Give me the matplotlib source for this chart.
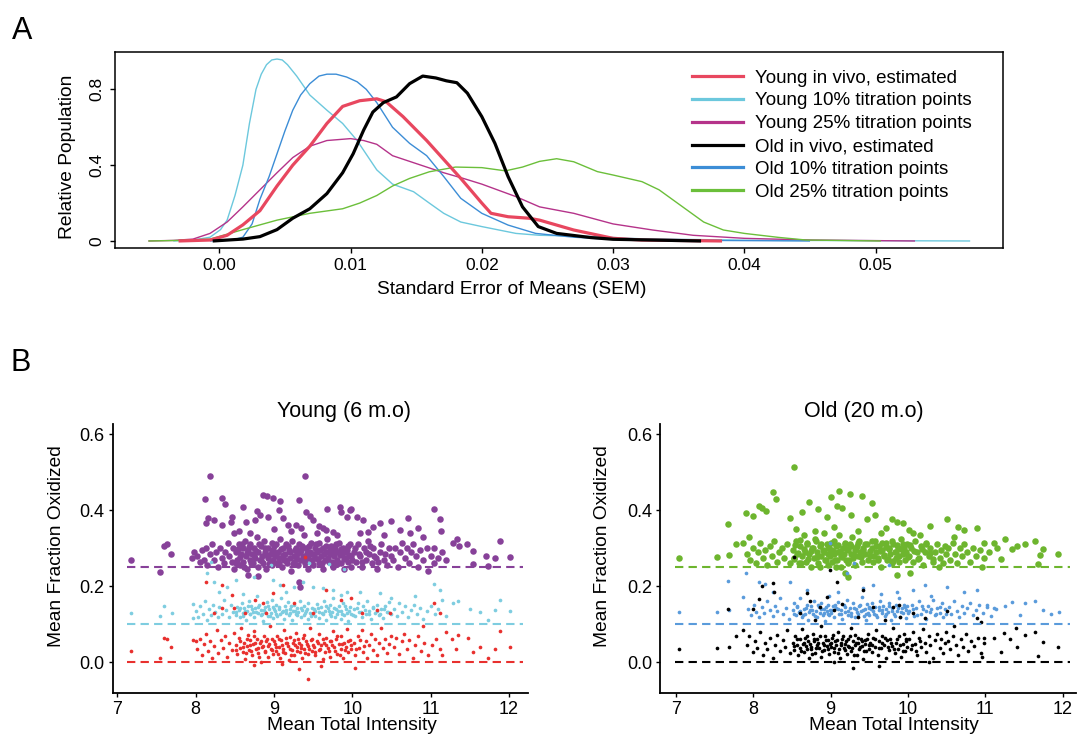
#!/usr/bin/env python3
import matplotlib

matplotlib.use("Agg")
import matplotlib.pyplot as plt
import numpy as np

plt.rcParams["font.family"] = ["Liberation Sans", "DejaVu Sans"]

W, H = 1079, 734

# ---------------- panel A: SEM densities ----------------
young_vivo_sem = [-0.0031, -0.0007, 0.0006, 0.0018, 0.0031, 0.0044, 0.0056, 0.0069, 0.0082, 0.0094,
                  0.0107, 0.0120, 0.0127, 0.0140, 0.0158, 0.0171, 0.0184, 0.0200, 0.0207, 0.0220,
                  0.0236, 0.0244, 0.0270, 0.0300, 0.0322, 0.0383]
young_vivo_den = [0.0, 0.005, 0.03, 0.085, 0.16, 0.29, 0.40, 0.50, 0.62, 0.71,
                  0.74, 0.75, 0.735, 0.656, 0.53, 0.43, 0.33, 0.20, 0.146, 0.128,
                  0.12, 0.11, 0.058, 0.014, 0.005, 0.0]

young10_sem = [-0.0035, -0.0020, -0.0007, 0.0001, 0.0006, 0.0012, 0.0018, 0.0023, 0.0028, 0.0032,
               0.0036, 0.0040, 0.0044, 0.0048, 0.0052, 0.0059, 0.0069, 0.0082, 0.0094, 0.0105,
               0.0120, 0.0132, 0.0148, 0.0160, 0.0171, 0.0184, 0.0200, 0.0226, 0.0244, 0.0280,
               0.0320, 0.0400, 0.0572]
young10_den = [0.0, 0.005, 0.02, 0.06, 0.11, 0.24, 0.40, 0.62, 0.80, 0.88,
               0.93, 0.955, 0.96, 0.955, 0.93, 0.87, 0.77, 0.69, 0.62, 0.53,
               0.375, 0.30, 0.26, 0.20, 0.146, 0.10, 0.076, 0.04, 0.03, 0.025,
               0.012, 0.004, 0.0]

young25_sem = [-0.0054, -0.0035, -0.0020, -0.0007, 0.0006, 0.0018, 0.0031, 0.0044, 0.0056, 0.0069,
               0.0082, 0.0100, 0.0110, 0.0120, 0.0132, 0.0145, 0.0158, 0.0171, 0.0186, 0.0200,
               0.0226, 0.0244, 0.0270, 0.0300, 0.0330, 0.0361, 0.0400, 0.0452, 0.0530]
young25_den = [0.0, 0.003, 0.01, 0.04, 0.10, 0.18, 0.27, 0.36, 0.44, 0.50,
               0.53, 0.54, 0.53, 0.51, 0.45, 0.42, 0.39, 0.36, 0.33, 0.30,
               0.234, 0.18, 0.146, 0.09, 0.058, 0.03, 0.014, 0.005, 0.0]

old_vivo_sem = [-0.0005, 0.0018, 0.0031, 0.0044, 0.0056, 0.0069, 0.0082, 0.0094, 0.0102, 0.0110,
                0.0117, 0.0125, 0.0135, 0.0145, 0.0155, 0.0165, 0.0173, 0.0181, 0.0189, 0.0200,
                0.0210, 0.0220, 0.0231, 0.0243, 0.0257, 0.0283, 0.0300, 0.0367]
old_vivo_den = [0.0, 0.01, 0.023, 0.06, 0.12, 0.17, 0.25, 0.36, 0.46, 0.585,
                0.68, 0.73, 0.76, 0.83, 0.87, 0.86, 0.845, 0.835, 0.78, 0.656,
                0.515, 0.34, 0.18, 0.076, 0.04, 0.018, 0.009, 0.0]

old10_sem = [-0.0007, 0.0010, 0.0018, 0.0025, 0.0031, 0.0038, 0.0044, 0.0050, 0.0056, 0.0062,
             0.0069, 0.0076, 0.0082, 0.0089, 0.0097, 0.0105, 0.0112, 0.0120, 0.0132, 0.0145,
             0.0158, 0.0171, 0.0184, 0.0200, 0.0220, 0.0241, 0.0270, 0.0300, 0.0350, 0.0450]
old10_den = [0.0, 0.005, 0.02, 0.09, 0.22, 0.34, 0.46, 0.58, 0.69, 0.77,
             0.83, 0.87, 0.88, 0.88, 0.865, 0.84, 0.80, 0.73, 0.60, 0.515,
             0.45, 0.34, 0.225, 0.146, 0.084, 0.04, 0.02, 0.008, 0.004, 0.0]

old25_sem = [-0.0054, -0.0030, -0.0007, 0.0018, 0.0044, 0.0069, 0.0094, 0.0107, 0.0120, 0.0132,
             0.0145, 0.0160, 0.0180, 0.0200, 0.0218, 0.0231, 0.0244, 0.0257, 0.0270, 0.0288,
             0.0300, 0.0322, 0.0335, 0.0353, 0.0369, 0.0384, 0.0400, 0.0426, 0.0447, 0.0504]
old25_den = [0.0, 0.003, 0.01, 0.06, 0.11, 0.146, 0.17, 0.20, 0.24, 0.29,
             0.33, 0.365, 0.39, 0.387, 0.37, 0.39, 0.42, 0.434, 0.418, 0.366,
             0.348, 0.313, 0.27, 0.18, 0.10, 0.058, 0.04, 0.019, 0.005, 0.0]

density_labels = ["Young in vivo, estimated", "Young 10% titration points", "Young 25% titration points",
                  "Old in vivo, estimated", "Old 10% titration points", "Old 25% titration points"]
sem_ticks = [0.00, 0.01, 0.02, 0.03, 0.04, 0.05]
pop_ticks = [0.0, 0.4, 0.8]
pop_tick_labels = ["0", "0.4", "0.8"]

# ---------------- panel B: mean fraction oxidized vs intensity ----------------
# Young (6 m.o), 25% titration points
young25_pts = [
    (7.18, 0.269), (7.54, 0.237), (7.59, 0.306), (7.64, 0.311), (7.69, 0.284), (7.95, 0.275), (7.98, 0.29),
    (8.18, 0.489), (8.12, 0.43), (8.34, 0.432), (8.37, 0.416), (8.61, 0.408), (8.86, 0.44), (8.91, 0.438),
    (8.99, 0.432), (9.08, 0.424), (9.32, 0.427), (9.40, 0.49), (9.41, 0.396), (9.68, 0.403), (9.84, 0.408),
    (9.97, 0.401), (9.99, 0.404), (11.04, 0.404), (11.12, 0.377), (11.13, 0.346), (11.34, 0.325),
    (11.89, 0.32), (12.01, 0.278), (11.71, 0.28), (11.82, 0.274), (11.54, 0.294), (11.46, 0.311),
    (11.29, 0.313), (11.36, 0.307), (11.54, 0.259), (11.74, 0.254), (10.97, 0.241), (11.20, 0.268),
    (8.13, 0.366), (8.16, 0.379), (8.23, 0.375), (8.33, 0.361), (8.46, 0.383), (8.45, 0.37), (8.49, 0.339),
    (8.64, 0.37), (8.76, 0.375), (8.78, 0.399), (8.82, 0.388), (8.93, 0.383), (9.07, 0.401), (9.12, 0.379),
    (9.18, 0.361), (9.28, 0.361), (9.35, 0.353), (9.46, 0.385), (9.50, 0.375), (9.57, 0.359), (9.62, 0.354),
    (9.67, 0.348), (9.76, 0.344), (9.86, 0.395), (9.93, 0.383), (10.06, 0.383), (10.14, 0.375),
    (10.20, 0.344), (10.27, 0.355), (10.35, 0.366), (10.50, 0.373), (10.61, 0.348), (10.71, 0.379),
    (10.74, 0.339), (10.84, 0.354), (8.67, 0.23), (8.80, 0.228), (9.32, 0.212), (9.33, 0.199),
    (8.55, 0.345), (8.70, 0.34), (9.00, 0.35), (9.22, 0.345), (9.55, 0.34), (9.80, 0.335), (10.10, 0.34),
    (10.40, 0.335), (10.90, 0.33), (11.05, 0.30), (11.15, 0.29),
    (8.02, 0.28), (8.05, 0.265), (8.08, 0.295), (8.10, 0.27), (8.13, 0.30), (8.15, 0.255), (8.18, 0.285),
    (8.21, 0.31), (8.23, 0.27), (8.26, 0.29), (8.28, 0.25), (8.31, 0.30), (8.33, 0.275), (8.36, 0.26),
    (8.38, 0.29), (8.41, 0.315), (8.43, 0.28), (8.46, 0.265), (8.48, 0.30), (8.49, 0.245),
    (8.51, 0.29), (8.53, 0.27), (8.55, 0.31), (8.56, 0.255), (8.58, 0.285), (8.60, 0.30), (8.61, 0.265),
    (8.63, 0.32), (8.64, 0.28), (8.66, 0.245), (8.67, 0.295), (8.69, 0.27), (8.70, 0.31), (8.72, 0.285),
    (8.73, 0.26), (8.75, 0.30), (8.76, 0.275), (8.78, 0.33), (8.79, 0.25), (8.80, 0.29), (8.82, 0.27),
    (8.83, 0.305), (8.85, 0.28), (8.86, 0.26), (8.87, 0.32), (8.89, 0.29), (8.90, 0.245), (8.92, 0.275),
    (8.93, 0.30), (8.95, 0.265), (8.96, 0.285), (8.97, 0.315), (8.98, 0.255), (8.99, 0.295), (8.99, 0.27),
    (9.01, 0.28), (9.02, 0.31), (9.04, 0.26), (9.05, 0.29), (9.07, 0.275), (9.08, 0.325), (9.10, 0.25),
    (9.11, 0.30), (9.13, 0.27), (9.14, 0.285), (9.16, 0.31), (9.17, 0.26), (9.19, 0.295), (9.20, 0.275),
    (9.22, 0.24), (9.23, 0.32), (9.25, 0.28), (9.26, 0.265), (9.28, 0.30), (9.29, 0.285), (9.31, 0.255),
    (9.32, 0.31), (9.34, 0.27), (9.35, 0.295), (9.37, 0.28), (9.38, 0.335), (9.40, 0.26), (9.41, 0.30),
    (9.43, 0.275), (9.44, 0.245), (9.46, 0.29), (9.47, 0.315), (9.48, 0.27), (9.49, 0.285), (9.50, 0.255),
    (9.52, 0.30), (9.53, 0.275), (9.55, 0.29), (9.57, 0.26), (9.58, 0.315), (9.60, 0.28), (9.62, 0.245),
    (9.63, 0.30), (9.65, 0.27), (9.67, 0.29), (9.68, 0.325), (9.70, 0.265), (9.72, 0.285), (9.73, 0.305),
    (9.75, 0.25), (9.77, 0.28), (9.78, 0.30), (9.80, 0.27), (9.82, 0.29), (9.83, 0.315), (9.85, 0.26),
    (9.87, 0.285), (9.88, 0.30), (9.90, 0.245), (9.92, 0.275), (9.93, 0.295), (9.95, 0.265), (9.97, 0.31),
    (9.98, 0.28), (9.99, 0.25),
    (10.02, 0.29), (10.05, 0.265), (10.07, 0.31), (10.10, 0.28), (10.12, 0.25), (10.15, 0.30),
    (10.17, 0.27), (10.20, 0.32), (10.22, 0.285), (10.25, 0.26), (10.27, 0.30), (10.30, 0.275),
    (10.32, 0.245), (10.35, 0.29), (10.37, 0.31), (10.40, 0.27), (10.42, 0.285), (10.45, 0.255),
    (10.47, 0.30), (10.49, 0.28), (10.52, 0.27), (10.55, 0.30), (10.58, 0.25), (10.61, 0.29),
    (10.64, 0.315), (10.67, 0.275), (10.70, 0.30), (10.72, 0.26), (10.75, 0.29), (10.78, 0.31),
    (10.81, 0.28), (10.84, 0.25), (10.87, 0.295), (10.90, 0.27), (10.95, 0.30), (11.00, 0.28),
    (11.05, 0.26), (11.10, 0.275),
    (8.52, 0.262), (8.54, 0.298), (8.57, 0.278), (8.59, 0.312), (8.62, 0.252), (8.65, 0.288), (8.68, 0.303),
    (8.71, 0.262), (8.74, 0.282), (8.77, 0.292), (8.81, 0.312), (8.84, 0.268), (8.88, 0.302), (8.91, 0.282),
    (8.94, 0.258), (8.97, 0.292), (9.00, 0.305), (9.03, 0.285), (9.06, 0.262), (9.09, 0.298), (9.12, 0.282),
    (9.15, 0.268), (9.18, 0.305), (9.21, 0.29), (9.24, 0.258), (9.27, 0.295), (9.30, 0.272), (9.33, 0.29),
    (9.36, 0.305), (9.39, 0.268), (9.42, 0.288), (9.45, 0.305), (9.48, 0.262), (9.51, 0.285), (9.54, 0.31),
    (9.56, 0.272), (9.59, 0.295), (9.61, 0.262), (9.64, 0.285), (9.66, 0.305), (9.69, 0.275), (9.71, 0.295),
    (9.74, 0.265), (9.76, 0.29), (9.79, 0.31), (9.81, 0.258), (9.84, 0.282), (9.86, 0.298), (9.89, 0.272),
    (9.91, 0.29), (9.94, 0.305), (9.96, 0.282), (10.00, 0.27), (10.03, 0.30), (10.08, 0.285),
    (10.13, 0.265), (10.18, 0.29), (10.23, 0.305), (10.28, 0.28), (10.33, 0.265),
]

# Young (6 m.o), 10% titration points
young10_pts = [
    (7.18, 0.129), (7.54, 0.122), (7.59, 0.149), (7.70, 0.129), (7.97, 0.154), (7.96, 0.116),
    (11.89, 0.164), (12.01, 0.136), (11.74, 0.111), (11.63, 0.133), (11.50, 0.139), (11.35, 0.160),
    (11.29, 0.155), (11.20, 0.122), (11.12, 0.189), (11.04, 0.205), (11.82, 0.138),
    (8.14, 0.234), (8.23, 0.212), (8.40, 0.199), (8.52, 0.217), (8.74, 0.225), (8.99, 0.217), (9.08, 0.204),
    (9.25, 0.199), (9.37, 0.212), (9.50, 0.199), (9.63, 0.195), (9.76, 0.19), (9.93, 0.186), (10.10, 0.186),
    (10.35, 0.182), (8.96, 0.255), (9.45, 0.262), (9.70, 0.258), (8.20, 0.265), (9.90, 0.245),
    (8.30, 0.185), (8.60, 0.18), (9.15, 0.185), (9.85, 0.178), (10.50, 0.17), (10.80, 0.175), (11.15, 0.165),
    (8.00, 0.135), (8.03, 0.12), (8.06, 0.148), (8.09, 0.128), (8.12, 0.16), (8.14, 0.11), (8.17, 0.14),
    (8.20, 0.125), (8.22, 0.152), (8.25, 0.132), (8.28, 0.118), (8.30, 0.145), (8.33, 0.128), (8.36, 0.165),
    (8.39, 0.138), (8.42, 0.12), (8.45, 0.15), (8.48, 0.133),
    (8.51, 0.125), (8.53, 0.145), (8.55, 0.138), (8.57, 0.118), (8.59, 0.155), (8.61, 0.13), (8.62, 0.142),
    (8.64, 0.112), (8.66, 0.136), (8.68, 0.16), (8.69, 0.127), (8.71, 0.148), (8.73, 0.133), (8.74, 0.12),
    (8.76, 0.143), (8.78, 0.175), (8.79, 0.13), (8.81, 0.152), (8.83, 0.124), (8.84, 0.138), (8.86, 0.108),
    (8.88, 0.146), (8.89, 0.132), (8.91, 0.158), (8.93, 0.121), (8.94, 0.14), (8.96, 0.13), (8.97, 0.165),
    (8.99, 0.117), (8.99, 0.145),
    (9.01, 0.134), (9.03, 0.152), (9.04, 0.122), (9.06, 0.141), (9.08, 0.128), (9.09, 0.17), (9.11, 0.136),
    (9.13, 0.115), (9.14, 0.148), (9.16, 0.13), (9.18, 0.158), (9.19, 0.124), (9.21, 0.14), (9.23, 0.11),
    (9.24, 0.135), (9.26, 0.15), (9.28, 0.127), (9.29, 0.143), (9.31, 0.133), (9.33, 0.162), (9.34, 0.119),
    (9.36, 0.138), (9.38, 0.147), (9.39, 0.125), (9.41, 0.136), (9.43, 0.155), (9.44, 0.113), (9.46, 0.131),
    (9.48, 0.144), (9.49, 0.126),
    (9.51, 0.14), (9.53, 0.122), (9.55, 0.153), (9.57, 0.132), (9.58, 0.117), (9.60, 0.145), (9.62, 0.128),
    (9.64, 0.16), (9.65, 0.135), (9.67, 0.112), (9.69, 0.142), (9.71, 0.126), (9.72, 0.15), (9.74, 0.133),
    (9.76, 0.168), (9.78, 0.12), (9.79, 0.139), (9.81, 0.128), (9.83, 0.147), (9.85, 0.115), (9.86, 0.136),
    (9.88, 0.155), (9.90, 0.125), (9.92, 0.141), (9.93, 0.131), (9.95, 0.108), (9.97, 0.146), (9.99, 0.128),
    (10.02, 0.14), (10.04, 0.122), (10.07, 0.155), (10.09, 0.133), (10.12, 0.118), (10.14, 0.147),
    (10.17, 0.128), (10.19, 0.162), (10.22, 0.136), (10.24, 0.113), (10.27, 0.144), (10.29, 0.13),
    (10.32, 0.152), (10.34, 0.124), (10.37, 0.139), (10.39, 0.117), (10.42, 0.148), (10.44, 0.132),
    (10.47, 0.158), (10.49, 0.126), (10.53, 0.14), (10.57, 0.122), (10.60, 0.155), (10.64, 0.133),
    (10.68, 0.147), (10.71, 0.118), (10.75, 0.138), (10.79, 0.152), (10.83, 0.128), (10.87, 0.143),
    (10.91, 0.115), (10.96, 0.136), (11.01, 0.148), (11.06, 0.127), (11.10, 0.14),
    (8.52, 0.132), (8.56, 0.142), (8.60, 0.122), (8.63, 0.135), (8.67, 0.147), (8.70, 0.128), (8.72, 0.14),
    (8.77, 0.132), (8.80, 0.145), (8.85, 0.128), (8.87, 0.138), (8.92, 0.148), (8.95, 0.122), (9.00, 0.14),
    (9.02, 0.128), (9.07, 0.145), (9.10, 0.132), (9.15, 0.138), (9.20, 0.13), (9.22, 0.147), (9.27, 0.136),
    (9.30, 0.125), (9.35, 0.143), (9.40, 0.13), (9.42, 0.14), (9.47, 0.122), (9.52, 0.135), (9.56, 0.143),
    (9.61, 0.13), (9.66, 0.148), (9.70, 0.134), (9.73, 0.122), (9.77, 0.142), (9.82, 0.136), (9.87, 0.128),
    (9.91, 0.148), (9.96, 0.135), (10.01, 0.125), (10.06, 0.142), (10.11, 0.132), (10.16, 0.138),
    (10.21, 0.126), (10.26, 0.145), (10.31, 0.135), (10.36, 0.128), (10.41, 0.14), (10.46, 0.132),
]

# Young (6 m.o), in vivo
young_vivo_pts = [
    (7.18, 0.031), (7.54, 0.011), (7.59, 0.065), (7.64, 0.061), (7.69, 0.039), (7.96, 0.059), (8.01, 0.057),
    (9.32, -0.018), (9.44, -0.045), (10.03, -0.014), (11.89, 0.082), (12.01, 0.039), (11.82, 0.034),
    (11.74, 0.011), (11.63, 0.041), (11.54, 0.028), (11.48, 0.063), (11.35, 0.072), (11.27, 0.061),
    (11.33, 0.034), (11.04, 0.155), (11.12, 0.129), (8.13, 0.21), (8.33, 0.204), (8.46, 0.177),
    (8.49, 0.142), (8.76, 0.164), (8.86, 0.155), (8.99, 0.182), (9.12, 0.204), (9.25, 0.155), (9.40, 0.278),
    (9.50, 0.129), (9.67, 0.19), (9.86, 0.164), (9.99, 0.168), (10.12, 0.129), (10.31, 0.138), (10.48, 0.129),
    (8.63, 0.129), (8.90, 0.129), (8.23, 0.129), (8.33, 0.142), (11.20, 0.08), (11.15, 0.02), (10.90, 0.095),
    (8.75, -0.008), (9.10, -0.005), (9.60, -0.01),
    (8.02, 0.035), (8.05, 0.062), (8.08, 0.02), (8.10, 0.048), (8.13, 0.075), (8.16, 0.03), (8.18, 0.055),
    (8.21, 0.012), (8.24, 0.042), (8.27, 0.085), (8.29, 0.025), (8.32, 0.058), (8.35, 0.038), (8.38, 0.07),
    (8.40, 0.015), (8.43, 0.05), (8.46, 0.032), (8.49, 0.078),
    (8.51, 0.045), (8.53, 0.022), (8.55, 0.065), (8.56, 0.038), (8.58, 0.09), (8.60, 0.028), (8.62, 0.052),
    (8.63, 0.008), (8.65, 0.042), (8.67, 0.072), (8.68, 0.033), (8.70, 0.058), (8.72, 0.018), (8.73, 0.047),
    (8.75, 0.083), (8.77, 0.036), (8.78, 0.062), (8.80, 0.025), (8.82, 0.05), (8.83, 0.002), (8.85, 0.04),
    (8.87, 0.068), (8.88, 0.03), (8.90, 0.055), (8.92, 0.015), (8.93, 0.044), (8.95, 0.095), (8.96, 0.035),
    (8.98, 0.06), (8.99, 0.022),
    (9.01, 0.048), (9.03, 0.03), (9.04, 0.07), (9.06, 0.04), (9.08, 0.012), (9.09, 0.058), (9.11, 0.035),
    (9.13, 0.085), (9.14, 0.025), (9.16, 0.052), (9.18, 0.042), (9.19, 0.005), (9.21, 0.066), (9.23, 0.032),
    (9.24, 0.05), (9.26, 0.02), (9.28, 0.078), (9.29, 0.04), (9.31, 0.06), (9.33, 0.028), (9.34, 0.045),
    (9.36, 0.01), (9.38, 0.072), (9.39, 0.036), (9.41, 0.055), (9.43, 0.022), (9.44, 0.043), (9.46, 0.09),
    (9.48, 0.03), (9.49, 0.062),
    (9.51, 0.04), (9.53, 0.018), (9.55, 0.057), (9.57, 0.033), (9.58, 0.075), (9.60, 0.045), (9.62, 0.008),
    (9.64, 0.05), (9.65, 0.028), (9.67, 0.065), (9.69, 0.038), (9.71, 0.055), (9.72, 0.015), (9.74, 0.045),
    (9.76, 0.082), (9.78, 0.03), (9.79, 0.06), (9.81, 0.022), (9.83, 0.048), (9.85, 0.035), (9.86, 0.07),
    (9.88, 0.012), (9.90, 0.052), (9.92, 0.04), (9.93, 0.088), (9.95, 0.026), (9.97, 0.058), (9.99, 0.036),
    (10.02, 0.05), (10.04, 0.02), (10.07, 0.068), (10.09, 0.038), (10.12, 0.085), (10.14, 0.028),
    (10.17, 0.055), (10.19, 0.01), (10.22, 0.045), (10.24, 0.075), (10.27, 0.033), (10.29, 0.06),
    (10.32, 0.018), (10.34, 0.05), (10.37, 0.09), (10.39, 0.038), (10.42, 0.062), (10.44, 0.025),
    (10.47, 0.048), (10.49, 0.07), (10.53, 0.04), (10.56, 0.065), (10.60, 0.022), (10.63, 0.055),
    (10.66, 0.075), (10.70, 0.035), (10.73, 0.058), (10.77, 0.012), (10.80, 0.045), (10.84, 0.068),
    (10.88, 0.03), (10.92, 0.052), (10.97, 0.018), (11.02, 0.045), (11.07, 0.062), (11.12, 0.035),
    (8.52, 0.032), (8.57, 0.055), (8.61, 0.04), (8.64, 0.025), (8.66, 0.06), (8.69, 0.045), (8.71, 0.03),
    (8.74, 0.068), (8.76, 0.05), (8.79, 0.038), (8.81, 0.015), (8.84, 0.055), (8.86, 0.042), (8.89, 0.028),
    (8.91, 0.062), (8.94, 0.048), (8.97, 0.032), (9.00, 0.055), (9.02, 0.04), (9.05, 0.022), (9.07, 0.06),
    (9.10, 0.045), (9.12, 0.028), (9.15, 0.065), (9.17, 0.05), (9.20, 0.035), (9.22, 0.018), (9.25, 0.058),
    (9.27, 0.045), (9.30, 0.03), (9.32, 0.052), (9.35, 0.038), (9.37, 0.065), (9.40, 0.025), (9.42, 0.048),
    (9.45, 0.035), (9.47, 0.058), (9.50, 0.045), (9.52, 0.028), (9.56, 0.05), (9.59, 0.035), (9.63, 0.062),
    (9.66, 0.045), (9.70, 0.03), (9.73, 0.055), (9.77, 0.04), (9.80, 0.068), (9.84, 0.02), (9.87, 0.048),
    (9.91, 0.032), (9.94, 0.055), (9.98, 0.045), (10.05, 0.035), (10.10, 0.058), (10.15, 0.042),
]

# Old (20 m.o), 25% titration points
old25_pts = [
    (7.04, 0.274), (7.53, 0.276), (7.67, 0.363), (7.69, 0.282), (7.78, 0.311), (7.87, 0.315), (7.90, 0.392),
    (7.95, 0.331), (7.99, 0.385), (8.08, 0.411), (8.11, 0.407), (8.16, 0.398), (8.25, 0.448), (8.29, 0.429),
    (8.53, 0.513), (8.48, 0.379), (8.63, 0.396), (8.72, 0.423), (8.84, 0.403), (8.95, 0.382), (9.01, 0.436),
    (9.11, 0.452), (9.08, 0.412), (9.15, 0.405), (9.25, 0.442), (9.27, 0.388), (9.40, 0.438), (9.53, 0.418),
    (9.47, 0.377), (9.58, 0.388), (9.72, 0.353), (9.79, 0.377), (9.86, 0.368), (9.93, 0.366), (10.01, 0.348),
    (10.07, 0.339), (10.29, 0.359), (10.50, 0.377), (10.65, 0.355), (10.72, 0.348), (10.89, 0.353),
    (10.99, 0.313), (11.11, 0.313), (11.25, 0.324), (11.41, 0.306), (11.52, 0.311), (11.64, 0.32),
    (11.75, 0.297), (11.94, 0.285), (11.68, 0.259), (11.71, 0.282), (11.35, 0.297), (11.20, 0.271),
    (10.96, 0.252), (10.40, 0.252), (10.03, 0.234), (9.86, 0.23), (9.23, 0.225), (9.19, 0.234),
    (9.07, 0.252), (8.86, 0.252), (8.55, 0.35), (8.80, 0.345), (9.05, 0.355), (9.35, 0.345), (9.65, 0.34),
    (10.15, 0.335), (10.60, 0.33), (11.05, 0.29), (11.15, 0.30),
    (7.92, 0.285), (7.96, 0.27), (8.00, 0.30), (8.03, 0.26), (8.06, 0.29), (8.09, 0.315), (8.12, 0.275),
    (8.15, 0.295), (8.18, 0.255), (8.21, 0.305), (8.24, 0.28), (8.27, 0.32), (8.30, 0.265), (8.33, 0.29),
    (8.37, 0.30), (8.40, 0.275), (8.44, 0.31), (8.47, 0.26),
    (8.51, 0.295), (8.53, 0.275), (8.55, 0.32), (8.57, 0.285), (8.59, 0.26), (8.61, 0.305), (8.63, 0.28),
    (8.65, 0.335), (8.67, 0.29), (8.68, 0.265), (8.70, 0.31), (8.72, 0.285), (8.74, 0.25), (8.76, 0.30),
    (8.78, 0.275), (8.80, 0.325), (8.82, 0.29), (8.84, 0.26), (8.86, 0.305), (8.88, 0.28), (8.90, 0.295),
    (8.92, 0.34), (8.93, 0.27), (8.95, 0.31), (8.96, 0.285), (8.97, 0.255), (8.98, 0.30), (8.99, 0.28),
    (9.01, 0.295), (9.02, 0.265), (9.04, 0.32), (9.05, 0.285), (9.07, 0.305), (9.08, 0.27), (9.10, 0.29),
    (9.11, 0.335), (9.13, 0.28), (9.14, 0.25), (9.16, 0.30), (9.17, 0.285), (9.19, 0.315), (9.20, 0.27),
    (9.22, 0.295), (9.23, 0.26), (9.25, 0.31), (9.26, 0.285), (9.28, 0.33), (9.29, 0.275), (9.31, 0.295),
    (9.32, 0.255), (9.34, 0.305), (9.35, 0.28), (9.37, 0.32), (9.38, 0.29), (9.40, 0.265), (9.42, 0.30),
    (9.44, 0.285), (9.47, 0.31),
    (9.51, 0.28), (9.53, 0.30), (9.55, 0.265), (9.57, 0.32), (9.59, 0.29), (9.61, 0.275), (9.63, 0.305),
    (9.65, 0.25), (9.67, 0.295), (9.69, 0.28), (9.71, 0.315), (9.73, 0.27), (9.75, 0.30), (9.77, 0.285),
    (9.79, 0.26), (9.81, 0.31), (9.83, 0.29), (9.85, 0.275), (9.87, 0.30), (9.89, 0.265), (9.91, 0.325),
    (9.93, 0.285), (9.95, 0.30), (9.96, 0.27), (9.98, 0.29), (9.99, 0.31),
    (10.02, 0.28), (10.04, 0.30), (10.07, 0.265), (10.09, 0.32), (10.12, 0.29), (10.14, 0.275),
    (10.17, 0.305), (10.19, 0.255), (10.22, 0.29), (10.24, 0.315), (10.27, 0.28), (10.29, 0.30),
    (10.32, 0.265), (10.35, 0.29), (10.38, 0.31), (10.41, 0.275), (10.43, 0.295), (10.46, 0.26),
    (10.48, 0.305), (10.49, 0.285), (10.52, 0.30), (10.55, 0.27), (10.58, 0.315), (10.61, 0.285),
    (10.64, 0.26), (10.67, 0.30), (10.70, 0.28), (10.73, 0.31), (10.76, 0.29), (10.80, 0.265),
    (10.84, 0.30), (10.88, 0.28), (10.93, 0.295), (10.98, 0.275),
    (8.52, 0.272), (8.54, 0.308), (8.58, 0.288), (8.60, 0.322), (8.62, 0.262), (8.66, 0.298), (8.69, 0.313),
    (8.71, 0.272), (8.75, 0.292), (8.77, 0.302), (8.81, 0.318), (8.83, 0.278), (8.87, 0.31), (8.91, 0.29),
    (8.94, 0.268), (8.97, 0.302), (9.00, 0.315), (9.03, 0.293), (9.06, 0.27), (9.09, 0.308), (9.12, 0.292),
    (9.15, 0.276), (9.18, 0.312), (9.21, 0.298), (9.24, 0.268), (9.27, 0.305), (9.30, 0.282), (9.33, 0.30),
    (9.36, 0.315), (9.39, 0.276), (9.42, 0.296), (9.45, 0.312), (9.48, 0.27), (9.51, 0.293), (9.54, 0.318),
    (9.56, 0.28), (9.59, 0.305), (9.61, 0.27), (9.64, 0.293), (9.66, 0.313), (9.69, 0.283), (9.71, 0.303),
    (9.74, 0.273), (9.76, 0.298), (9.79, 0.318), (9.81, 0.266), (9.84, 0.29), (9.86, 0.308), (9.89, 0.28),
    (9.91, 0.298), (9.94, 0.312), (9.96, 0.29), (10.00, 0.278), (10.03, 0.308), (10.08, 0.293),
    (10.13, 0.273), (10.18, 0.298), (10.23, 0.312), (10.28, 0.288), (10.33, 0.273),
]

# Old (20 m.o), 10% titration points
old10_pts = [
    (7.04, 0.132), (7.53, 0.132), (7.67, 0.215), (7.69, 0.138), (7.87, 0.173), (7.90, 0.234), (8.08, 0.212),
    (8.15, 0.205), (8.25, 0.186), (8.48, 0.212), (11.95, 0.132), (11.75, 0.138), (11.65, 0.16),
    (11.52, 0.155), (11.35, 0.158), (11.11, 0.142), (11.02, 0.151), (10.89, 0.189), (10.72, 0.186),
    (10.50, 0.199), (10.22, 0.204), (10.07, 0.19), (9.86, 0.186), (9.55, 0.204), (9.42, 0.195),
    (9.21, 0.234), (8.99, 0.313), (9.30, 0.26), (9.75, 0.255), (8.70, 0.19), (9.10, 0.185), (9.65, 0.18),
    (10.30, 0.175), (11.25, 0.148), (11.45, 0.125), (11.85, 0.128),
    (7.93, 0.14), (7.97, 0.125), (8.01, 0.152), (8.04, 0.133), (8.08, 0.118), (8.11, 0.145), (8.14, 0.13),
    (8.18, 0.16), (8.21, 0.138), (8.25, 0.122), (8.28, 0.148), (8.31, 0.135), (8.35, 0.17), (8.38, 0.128),
    (8.42, 0.143), (8.46, 0.115),
    (8.51, 0.138), (8.53, 0.155), (8.55, 0.125), (8.57, 0.145), (8.59, 0.132), (8.61, 0.168), (8.63, 0.12),
    (8.65, 0.14), (8.67, 0.128), (8.69, 0.152), (8.71, 0.112), (8.73, 0.137), (8.75, 0.148), (8.77, 0.126),
    (8.79, 0.162), (8.81, 0.134), (8.83, 0.118), (8.85, 0.145), (8.86, 0.13), (8.88, 0.156), (8.90, 0.124),
    (8.92, 0.14), (8.93, 0.108), (8.95, 0.135), (8.96, 0.15), (8.97, 0.127), (8.98, 0.175), (8.99, 0.138),
    (9.01, 0.13), (9.03, 0.148), (9.05, 0.12), (9.07, 0.142), (9.09, 0.158), (9.11, 0.127), (9.13, 0.138),
    (9.15, 0.115), (9.17, 0.15), (9.19, 0.133), (9.21, 0.165), (9.23, 0.125), (9.25, 0.143), (9.27, 0.13),
    (9.29, 0.155), (9.31, 0.118), (9.33, 0.14), (9.35, 0.128), (9.37, 0.147), (9.39, 0.136), (9.41, 0.172),
    (9.43, 0.122), (9.45, 0.141), (9.46, 0.11), (9.47, 0.153), (9.48, 0.131), (9.49, 0.145), (9.50, 0.125),
    (9.52, 0.14), (9.54, 0.157), (9.56, 0.128), (9.58, 0.145), (9.60, 0.118), (9.62, 0.138), (9.64, 0.162),
    (9.66, 0.13), (9.68, 0.148), (9.70, 0.122), (9.72, 0.14), (9.74, 0.133), (9.76, 0.155), (9.78, 0.112),
    (9.80, 0.143), (9.82, 0.127), (9.84, 0.15), (9.86, 0.136), (9.88, 0.168), (9.90, 0.12), (9.92, 0.142),
    (9.94, 0.13), (9.95, 0.152), (9.97, 0.116), (9.98, 0.138), (9.99, 0.147),
    (10.02, 0.135), (10.05, 0.15), (10.08, 0.122), (10.11, 0.143), (10.14, 0.16), (10.17, 0.128),
    (10.20, 0.14), (10.23, 0.115), (10.26, 0.148), (10.29, 0.133), (10.32, 0.165), (10.35, 0.125),
    (10.38, 0.142), (10.41, 0.13), (10.44, 0.155), (10.46, 0.118), (10.48, 0.14), (10.49, 0.128),
    (10.53, 0.145), (10.56, 0.128), (10.60, 0.16), (10.63, 0.135), (10.66, 0.12), (10.70, 0.148),
    (10.73, 0.13), (10.77, 0.142), (10.80, 0.155), (10.84, 0.125), (10.88, 0.138), (10.92, 0.15),
    (10.97, 0.13), (11.02, 0.145), (11.07, 0.122), (11.14, 0.14),
    (8.52, 0.128), (8.56, 0.148), (8.60, 0.135), (8.64, 0.125), (8.68, 0.142), (8.72, 0.132), (8.76, 0.138),
    (8.80, 0.122), (8.84, 0.152), (8.87, 0.14), (8.91, 0.13), (8.94, 0.145), (8.98, 0.125), (9.02, 0.138),
    (9.06, 0.15), (9.10, 0.14), (9.14, 0.128), (9.18, 0.145), (9.22, 0.135), (9.26, 0.122), (9.30, 0.142),
    (9.34, 0.132), (9.38, 0.152), (9.42, 0.138), (9.46, 0.128), (9.50, 0.143), (9.55, 0.135), (9.59, 0.125),
    (9.63, 0.145), (9.67, 0.138), (9.71, 0.128), (9.75, 0.148), (9.79, 0.135), (9.83, 0.122), (9.87, 0.142),
    (9.91, 0.132), (9.96, 0.145), (10.00, 0.13), (10.06, 0.14), (10.12, 0.125), (10.18, 0.148),
    (10.24, 0.135), (10.30, 0.14), (10.36, 0.128), (10.42, 0.146),
]

# Old (20 m.o), in vivo
old_vivo_pts = [
    (7.04, 0.034), (7.53, 0.037), (7.67, 0.139), (7.69, 0.041), (7.78, 0.068), (7.87, 0.085), (7.99, 0.139),
    (8.08, 0.166), (8.11, 0.201), (8.25, 0.208), (8.27, 0.184), (8.53, 0.276), (8.99, 0.243), (11.94, 0.041),
    (11.75, 0.054), (11.68, 0.017), (11.65, 0.081), (11.52, 0.072), (11.41, 0.041), (11.32, 0.061),
    (11.24, 0.076), (11.20, 0.028), (11.11, 0.063), (10.99, 0.063), (10.96, 0.015), (10.94, 0.107),
    (10.89, 0.116), (10.50, 0.136), (10.22, 0.116), (9.29, -0.016), (9.04, 0.002), (9.62, -0.009),
    (10.27, 0.002), (8.73, 0.16), (8.69, 0.182), (8.86, 0.146), (9.04, 0.138), (9.15, 0.154), (9.42, 0.19),
    (9.55, 0.146), (9.81, 0.146), (9.88, 0.151), (9.90, 0.12), (10.07, 0.129), (9.08, 0.212), (8.95, 0.173),
    (8.60, 0.13), (8.80, 0.11), (9.35, 0.12), (9.70, 0.11), (10.60, 0.095), (11.40, 0.09),
    (7.92, 0.045), (7.95, 0.07), (7.99, 0.028), (8.02, 0.055), (8.05, 0.038), (8.09, 0.08), (8.12, 0.02),
    (8.15, 0.05), (8.18, 0.035), (8.21, 0.065), (8.25, 0.012), (8.28, 0.045), (8.31, 0.072), (8.34, 0.03),
    (8.38, 0.058), (8.41, 0.04), (8.44, 0.085), (8.48, 0.025),
    (8.51, 0.05), (8.52, 0.032), (8.54, 0.07), (8.56, 0.045), (8.58, 0.018), (8.60, 0.06), (8.61, 0.038),
    (8.63, 0.088), (8.65, 0.028), (8.66, 0.052), (8.68, 0.042), (8.70, 0.068), (8.72, 0.01), (8.73, 0.048),
    (8.75, 0.035), (8.77, 0.075), (8.78, 0.055), (8.80, 0.025), (8.82, 0.045), (8.83, 0.062), (8.85, 0.038),
    (8.87, 0.095), (8.88, 0.015), (8.90, 0.05), (8.92, 0.032), (8.93, 0.07), (8.95, 0.042), (8.96, 0.058),
    (8.98, 0.022), (8.99, 0.048),
    (9.01, 0.04), (9.02, 0.065), (9.04, 0.028), (9.06, 0.055), (9.07, 0.045), (9.09, 0.08), (9.11, 0.035),
    (9.12, 0.012), (9.14, 0.052), (9.16, 0.068), (9.17, 0.038), (9.19, 0.048), (9.21, 0.022), (9.22, 0.06),
    (9.24, 0.04), (9.26, 0.09), (9.27, 0.03), (9.29, 0.055), (9.31, 0.045), (9.32, 0.072), (9.34, 0.018),
    (9.36, 0.05), (9.37, 0.035), (9.39, 0.062), (9.41, 0.042), (9.42, 0.008), (9.44, 0.058), (9.46, 0.03),
    (9.48, 0.075), (9.49, 0.045),
    (9.51, 0.052), (9.53, 0.028), (9.55, 0.065), (9.57, 0.04), (9.59, 0.085), (9.61, 0.02), (9.63, 0.055),
    (9.65, 0.038), (9.67, 0.07), (9.69, 0.045), (9.71, 0.012), (9.73, 0.058), (9.75, 0.032), (9.77, 0.062),
    (9.79, 0.042), (9.81, 0.09), (9.83, 0.025), (9.85, 0.05), (9.87, 0.035), (9.89, 0.068), (9.91, 0.015),
    (9.93, 0.048), (9.95, 0.075), (9.96, 0.03), (9.98, 0.055), (9.99, 0.04),
    (10.02, 0.06), (10.04, 0.035), (10.07, 0.08), (10.09, 0.048), (10.12, 0.02), (10.14, 0.065),
    (10.17, 0.04), (10.19, 0.088), (10.22, 0.052), (10.24, 0.028), (10.27, 0.07), (10.29, 0.045),
    (10.32, 0.01), (10.35, 0.058), (10.38, 0.075), (10.41, 0.038), (10.43, 0.062), (10.46, 0.025),
    (10.48, 0.05), (10.49, 0.08), (10.52, 0.055), (10.55, 0.035), (10.58, 0.07), (10.62, 0.045),
    (10.65, 0.02), (10.68, 0.06), (10.71, 0.04), (10.75, 0.075), (10.78, 0.03), (10.82, 0.055),
    (10.86, 0.042), (10.90, 0.065), (10.95, 0.025), (10.99, 0.05),
    (8.53, 0.042), (8.57, 0.06), (8.62, 0.03), (8.64, 0.048), (8.67, 0.065), (8.69, 0.035), (8.71, 0.055),
    (8.74, 0.04), (8.76, 0.022), (8.79, 0.06), (8.81, 0.038), (8.84, 0.052), (8.86, 0.07), (8.89, 0.03),
    (8.91, 0.045), (8.94, 0.058), (8.97, 0.035), (9.00, 0.05), (9.03, 0.072), (9.05, 0.038), (9.08, 0.058),
    (9.10, 0.025), (9.13, 0.045), (9.15, 0.06), (9.18, 0.032), (9.20, 0.055), (9.23, 0.042), (9.25, 0.068),
    (9.28, 0.038), (9.30, 0.02), (9.33, 0.05), (9.35, 0.065), (9.38, 0.04), (9.40, 0.055), (9.43, 0.03),
    (9.45, 0.048), (9.47, 0.062), (9.50, 0.035), (9.54, 0.045), (9.58, 0.06), (9.62, 0.038), (9.66, 0.052),
    (9.70, 0.065), (9.74, 0.04), (9.78, 0.05), (9.82, 0.035), (9.86, 0.06), (9.90, 0.045), (9.94, 0.03),
    (9.97, 0.062), (10.05, 0.045), (10.10, 0.03), (10.15, 0.055),
]

reference_levels = [0.25, 0.10, 0.0]
intensity_ticks = [7, 8, 9, 10, 11, 12]
fraction_ticks = [0.0, 0.2, 0.4, 0.6]

# colours
A_COLORS = ["#e8475f", "#6cc8dd", "#b5338a", "#000000", "#3c8dd6", "#6bbf3a"]
A_WIDTHS = [2.3, 1.0, 1.0, 2.3, 1.0, 1.0]
YOUNG_COLORS = ["#874199", "#7ecde0", "#e8302e"]
OLD_COLORS = ["#6db52e", "#5a9bdb", "#000000"]


def px_rect(x0, y0, x1, y1):
    """pixel box (top-left origin) -> figure fraction rect"""
    return [x0 / W, 1 - y1 / H, (x1 - x0) / W, (y1 - y0) / H]


def fig_text(fig, x, y, s, **kw):
    fig.text(x / W, 1 - y / H, s, **kw)


def draw_density(fig):
    ax = fig.add_axes(px_rect(115, 52, 1003, 248))
    series = [
        (young_vivo_sem, young_vivo_den),
        (young10_sem, young10_den),
        (young25_sem, young25_den),
        (old_vivo_sem, old_vivo_den),
        (old10_sem, old10_den),
        (old25_sem, old25_den),
    ]
    # thin curves first, thick ones on top
    for i in [1, 2, 4, 5, 0, 3]:
        xs, ys = series[i]
        ax.plot(xs, ys, color=A_COLORS[i], lw=A_WIDTHS[i], solid_capstyle="butt", solid_joinstyle="round")
    ax.set_xlim(-0.00794, 0.0597)
    ax.set_ylim(-0.037, 0.997)
    ax.set_xticks(sem_ticks)
    ax.set_xticklabels([f"{t:.2f}" for t in sem_ticks], fontsize=12.5)
    ax.set_yticks(pop_ticks)
    ax.set_yticklabels(pop_tick_labels, fontsize=12.5, rotation=90, va="center")
    ax.tick_params(direction="out", length=3.5, width=1.0, pad=4)
    for sp in ax.spines.values():
        sp.set_linewidth(1.1)

    leg_handles = [plt.Line2D([], [], color=A_COLORS[i], lw=2.3) for i in range(len(series))]
    fig.legend(leg_handles, density_labels, loc="upper left", bbox_to_anchor=(691.7 / W, 1 - 69.5 / H),
               frameon=False, fontsize=13.5, handlelength=2.75, handletextpad=0.65,
               labelspacing=0.305, borderpad=0, borderaxespad=0)

    fig_text(fig, 512, 290, "Standard Error of Means (SEM)", fontsize=13.8, ha="center", va="center")
    fig_text(fig, 68, 157, "Relative Population", fontsize=13.8, ha="center", va="center", rotation=90)
    fig_text(fig, 22, 31, "A", fontsize=22, ha="center", va="center")


def draw_scatter(fig, rect, xlim, clouds, colors, sizes, line_span, title, title_x, ylabel_x, xlabel_x):
    ax = fig.add_axes(px_rect(*rect))
    for pts, col, s in zip(clouds, colors, sizes):
        arr = np.array(pts)
        ax.scatter(arr[:, 0], arr[:, 1], s=s, color=col, linewidths=0, zorder=2)
    for level, col in zip(reference_levels, colors):
        ax.hlines(level, line_span[0], line_span[1], colors=col, linewidth=1.5,
                  linestyles=(0, (4.0, 2.5)), zorder=3)
    ax.set_xlim(*xlim)
    ax.set_ylim(-0.0808, 0.6271)
    ax.set_xticks(intensity_ticks)
    ax.set_xticklabels([str(t) for t in intensity_ticks], fontsize=13)
    ax.set_yticks(fraction_ticks)
    ax.set_yticklabels([f"{t:.1f}" for t in fraction_ticks], fontsize=13)
    ax.tick_params(direction="out", length=3, width=1.0, pad=3)
    for side in ("top", "right"):
        ax.spines[side].set_visible(False)
    for side in ("left", "bottom"):
        ax.spines[side].set_linewidth(1.3)

    fig_text(fig, title_x, 411, title, fontsize=15.5, ha="center", va="center")
    fig_text(fig, ylabel_x, 546, "Mean Fraction Oxidized", fontsize=13.8, ha="center", va="center",
             rotation=90)
    fig_text(fig, xlabel_x, 725, "Mean Total Intensity", fontsize=13.8, ha="center", va="center")


def main() -> int:
    fig = plt.figure(figsize=(W / 100, H / 100), dpi=100)
    draw_density(fig)

    draw_scatter(fig, (112.7, 424, 528, 693), (6.94, 12.245),
                 [young25_pts, young10_pts, young_vivo_pts], YOUNG_COLORS, [22, 7, 7],
                 (7.12, 12.18), "Young (6 m.o)", 344, 57, 352)
    draw_scatter(fig, (660.3, 424, 1075.7, 693), (6.797, 12.17),
                 [old25_pts, old10_pts, old_vivo_pts], OLD_COLORS, [22, 7, 7],
                 (6.99, 12.10), "Old (20 m.o)", 864, 603, 894)
    fig_text(fig, 21, 363, "B", fontsize=22, ha="center", va="center")

    fig.savefig("out.png", dpi=100)
    plt.close(fig)
    print("Saved: out.png")
    return 0


if __name__ == "__main__":
    raise SystemExit(main())
